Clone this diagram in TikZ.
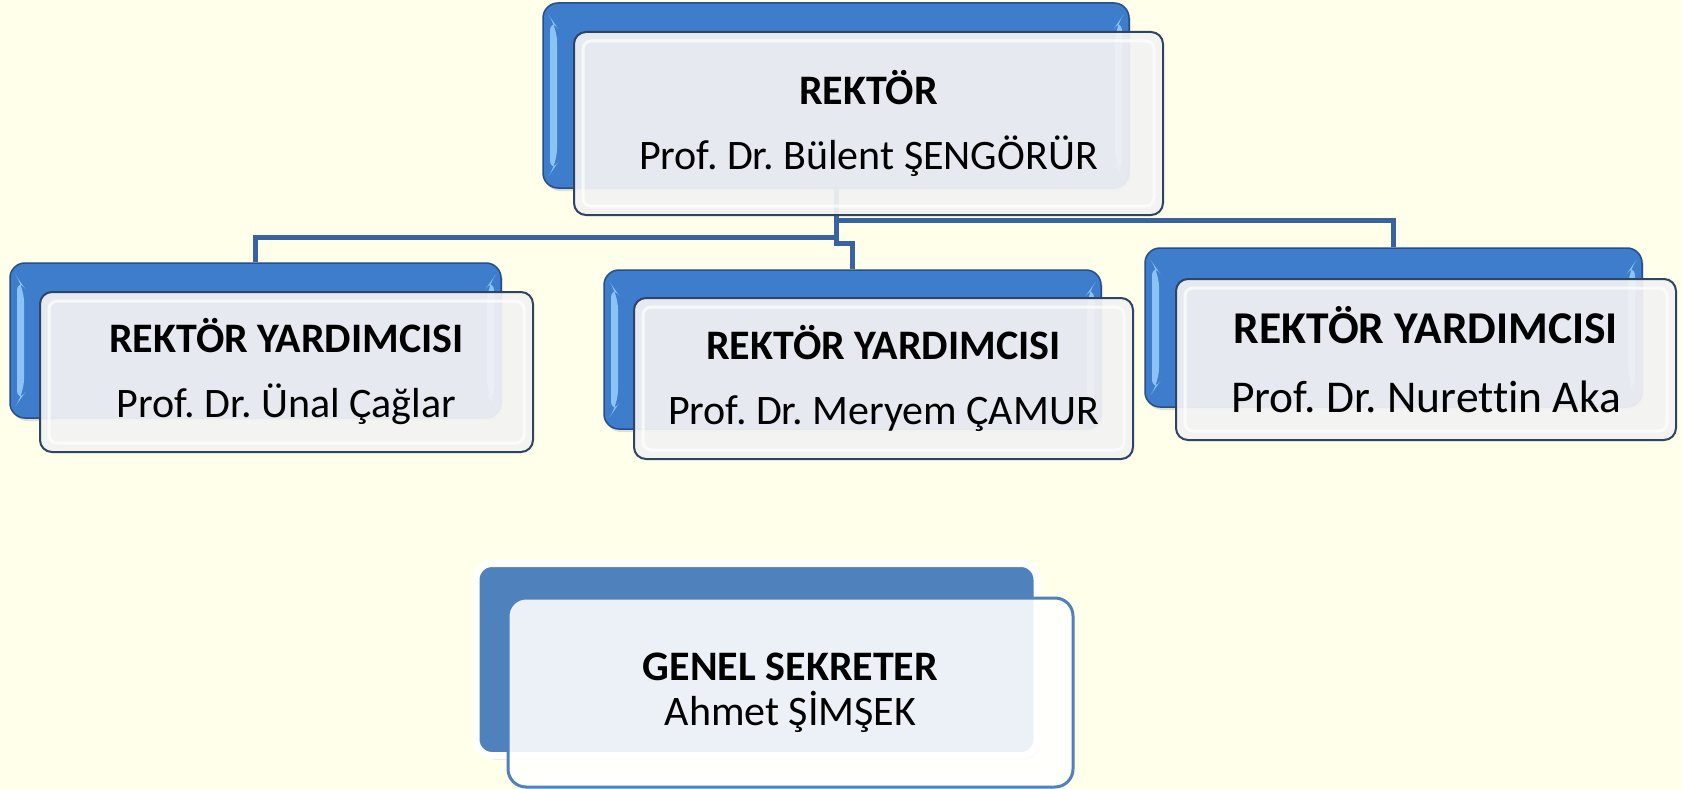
\documentclass[tikz,border=0pt]{standalone}
\usepackage{fontspec}
\setmainfont{Carlito}[Ligatures=NoCommon]
\usetikzlibrary{shadows}
\frenchspacing

\definecolor{org_bg}{RGB}{255,255,234}
\definecolor{org_blue}{RGB}{61,125,204}
\definecolor{org_blueedge}{RGB}{38,78,135}
\definecolor{org_bevel}{RGB}{140,195,245}
\definecolor{org_link}{RGB}{56,98,160}
\definecolor{org_frontedge}{RGB}{45,68,98}
\definecolor{org_front}{RGB}{243,243,243}
\definecolor{org_gsblue}{RGB}{79,129,189}

\tikzset{
  backbox/.style={shape=rectangle,draw=org_blueedge,line width=1.5pt,fill=org_blue,
    rounded corners=15pt,drop shadow={shadow xshift=2pt,shadow yshift=-3pt,opacity=.25},
    path picture={
      \fill[org_bevel] ([shift={(7pt,-14pt)}]path picture bounding box.north west)
        -- ([shift={(14pt,-24pt)}]path picture bounding box.north west)
        -- ([shift={(14pt,24pt)}]path picture bounding box.south west)
        -- ([shift={(7pt,14pt)}]path picture bounding box.south west) -- cycle;
      \fill[org_bevel] ([shift={(-7pt,-14pt)}]path picture bounding box.north east)
        -- ([shift={(-14pt,-24pt)}]path picture bounding box.north east)
        -- ([shift={(-14pt,24pt)}]path picture bounding box.south east)
        -- ([shift={(-7pt,14pt)}]path picture bounding box.south east) -- cycle;
    }},
  frontbox/.style={shape=rectangle,draw=org_frontedge,line width=2pt,fill=org_front,
    fill opacity=.93,text opacity=1,rounded corners=12pt,align=center,
    font=\fontsize{42}{65}\selectfont,
    path picture={
      \draw[white,line width=3pt,opacity=.7,rounded corners=8pt]
        ([shift={(9pt,-9pt)}]path picture bounding box.north west)
        rectangle ([shift={(-9pt,9pt)}]path picture bounding box.south east);
    }},
  link/.style={draw=org_link,line width=5pt},
  gsback/.style={shape=rectangle,draw=white,line width=7pt,fill=org_gsblue,
    rounded corners=16pt,drop shadow={shadow xshift=3pt,shadow yshift=-4pt,opacity=.2}},
  gsfront/.style={shape=rectangle,draw=org_gsblue,line width=3pt,fill=white,
    fill opacity=.89,text opacity=1,rounded corners=18pt,align=center,
    font=\fontsize{42}{45}\selectfont}
}

\begin{document}
\begin{tikzpicture}[x=1pt,y=-1pt]
    \useasboundingbox (0,0) rectangle (1681,789);
    \fill[org_bg] (0,0) rectangle (1681,789);
    % back boxes
    \node[backbox,minimum width=586pt,minimum height=185pt] (rektor_bk) at (836,95.5) {};
    \node[backbox,minimum width=491pt,minimum height=155pt] (yard1_bk) at (255.5,340.5) {};
    \node[backbox,minimum width=497pt,minimum height=159pt] (yard2_bk) at (852.5,349.5) {};
    \node[backbox,minimum width=497pt,minimum height=159pt] (yard3_bk) at (1393.5,327.5) {};
    \node[gsback,minimum width=561pt,minimum height=192pt] (genel_bk) at (756.5,659.5) {};
    % links
    \draw[link] (rektor_bk.south) -- ++(0,32) -| (yard3_bk.north);
    \draw[link] (rektor_bk.south) -- ++(0,49) -| (yard1_bk.north);
    \draw[link] (rektor_bk.south) -- ++(0,55) -| (yard2_bk.north);
    % front boxes
    \node[frontbox,minimum width=589pt,minimum height=183pt] (rektor) at (868.5,123.5) {\textbf{REKTÖR}\\Prof. Dr. Bülent ŞENGÖRÜR};
    \node[frontbox,minimum width=493pt,minimum height=160pt] (yard1) at (286.5,372) {\textbf{REKTÖR YARDIMCISI}\\Prof. Dr. Ünal Çağlar};
    \node[frontbox,minimum width=499pt,minimum height=161pt] (yard2) at (883.5,378.5) {\textbf{REKTÖR YARDIMCISI}\\Prof. Dr. Meryem ÇAMUR};
    \node[frontbox,minimum width=500pt,minimum height=161pt,font=\fontsize{45.5}{69}\selectfont] (yard3) at (1426,359.5) {\textbf{REKTÖR YARDIMCISI}\\Prof. Dr. Nurettin Aka};
    \node[gsfront,minimum width=565pt,minimum height=189pt] (genel) at (790.5,692.5) {\textbf{GENEL SEKRETER}\\Ahmet ŞİMŞEK};
\end{tikzpicture}
\end{document}
